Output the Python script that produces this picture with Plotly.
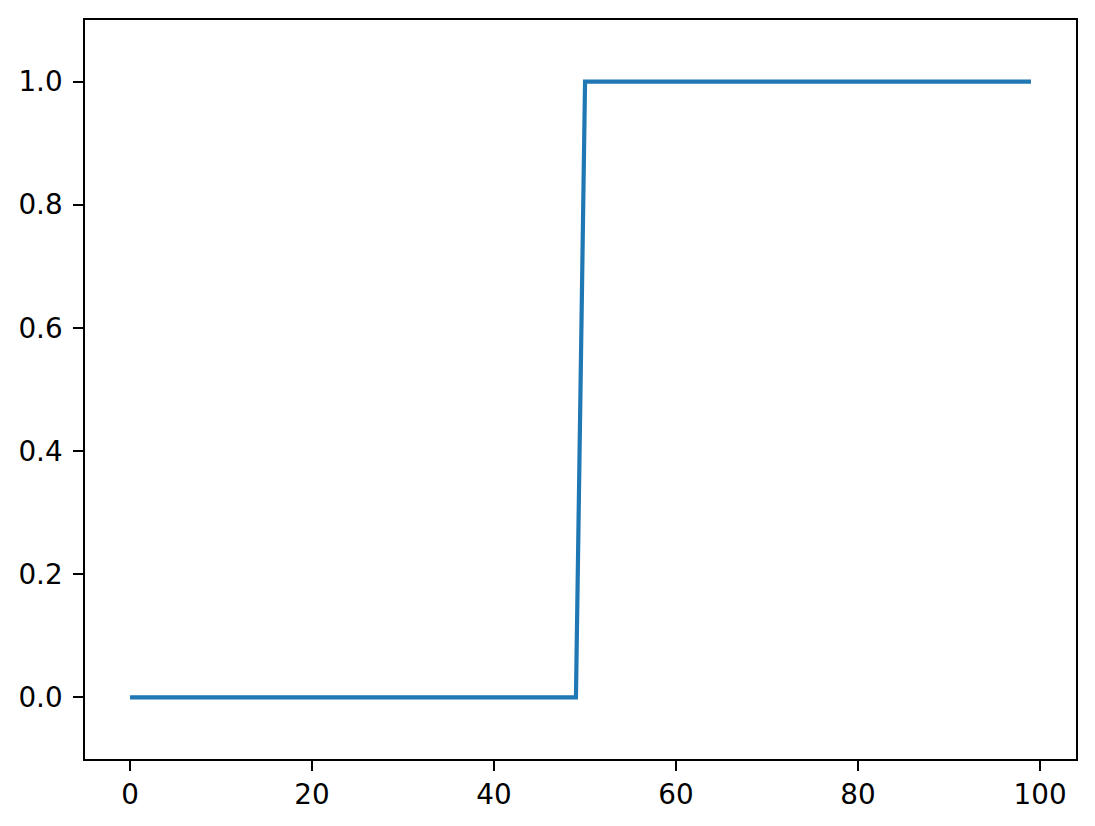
import plotly.graph_objects as go

x_values = list(range(100))
y_values = [
    0, 0, 0, 0, 0, 0, 0, 0, 0, 0,
    0, 0, 0, 0, 0, 0, 0, 0, 0, 0,
    0, 0, 0, 0, 0, 0, 0, 0, 0, 0,
    0, 0, 0, 0, 0, 0, 0, 0, 0, 0,
    0, 0, 0, 0, 0, 0, 0, 0, 0, 0,
    1, 1, 1, 1, 1, 1, 1, 1, 1, 1,
    1, 1, 1, 1, 1, 1, 1, 1, 1, 1,
    1, 1, 1, 1, 1, 1, 1, 1, 1, 1,
    1, 1, 1, 1, 1, 1, 1, 1, 1, 1,
    1, 1, 1, 1, 1, 1, 1, 1, 1, 1,
]
x_ticks = [0, 20, 40, 60, 80, 100]
y_ticks = [0.0, 0.2, 0.4, 0.6, 0.8, 1.0]
y_tick_labels = ["0.0", "0.2", "0.4", "0.6", "0.8", "1.0"]

fig = go.Figure()
fig.add_trace(go.Scatter(
    x=x_values, y=y_values, mode="lines",
    line=dict(color="#1f77b4", width=4.2),
    showlegend=False,
))

axis_common = dict(
    showgrid=False, zeroline=False,
    showline=True, linecolor="black", linewidth=2.2, mirror=True,
    ticks="outside", ticklen=9.7, tickwidth=2.2, tickcolor="black",
    tickfont=dict(family="DejaVu Sans", size=27.8, color="black"),
)
fig.update_xaxes(range=[-4.95, 103.95], tickvals=x_ticks,
                 ticktext=[str(t) for t in x_ticks], ticklabelstandoff=0,
                 **axis_common)
fig.update_yaxes(range=[-0.1, 1.1], tickvals=y_ticks,
                 ticktext=y_tick_labels, ticklabelstandoff=5,
                 **axis_common)

# page body has a default 8px margin; compensate so the plot area lands
# at the same screen position as the reference
fig.update_layout(
    width=1087, height=818,
    margin=dict(l=76, r=19, t=10, b=67, pad=0),
    paper_bgcolor="white", plot_bgcolor="white",
    font=dict(family="DejaVu Sans"),
)
fig.write_html("out.html")
